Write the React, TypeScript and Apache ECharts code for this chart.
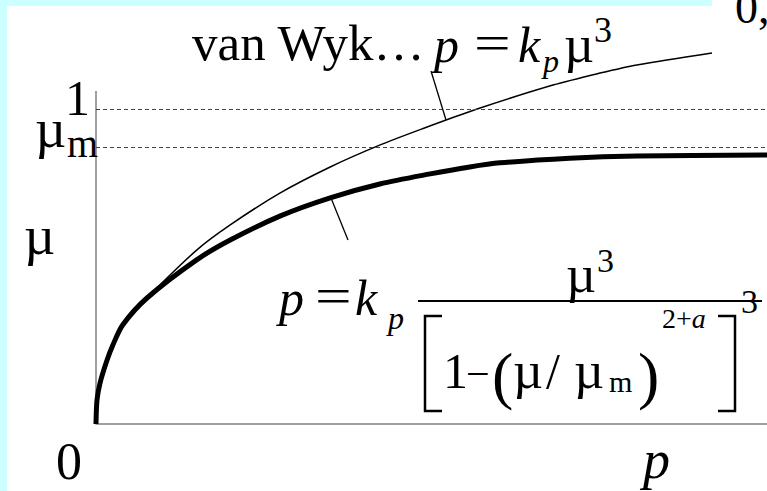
import React, { useEffect, useRef } from "react";
import * as echarts from "echarts";

// Pressure p against friction coefficient μ
// Thin curve: van Wyk cubic law; thick curve: saturating law with μ → μm
const VANWYK_P = [0, 0.015, 0.06, 0.16, 0.25, 0.4, 0.76, 1.5, 2.0, 2.74, 3.49, 4.2, 4.86, 5.68, 6.81, 7.51, 8.06, 9.18];
const VANWYK_MU = [0, 0.076, 0.13, 0.2, 0.25, 0.315, 0.4, 0.552, 0.632, 0.733, 0.816, 0.883, 0.937, 1.0, 1.076, 1.114, 1.14, 1.178];

const SAT_P = [0, 0.015, 0.06, 0.16, 0.25, 0.4, 0.76, 1.5, 2.0, 2.74, 3.49, 4.23, 4.98, 5.57, 6.02, 7.06, 8.06, 10];
const SAT_MU = [0, 0.076, 0.13, 0.2, 0.25, 0.315, 0.4, 0.521, 0.584, 0.66, 0.718, 0.762, 0.794, 0.816, 0.829, 0.844, 0.851, 0.854];

// reference levels on the μ axis
const MU_ONE = 1;
const MU_M = 0.879;
const Y_AXIS_TOP = 1.057;
const P_MAX = 10;
const MU_MAX = 1.2;

const FONT = '"Liberation Serif", "DejaVu Serif", serif';
const MU = "\u00b5";

function txt(s: string, left: number, baseline: number, size: number, italic = false, extra: any = {}) {
  return {
    type: "text",
    x: left,
    y: baseline - 0.34 * size,
    z: 10,
    style: {
      text: s,
      fontSize: size,
      fontFamily: FONT,
      fontStyle: italic ? "italic" : "normal",
      fill: "#000",
      align: "left",
      verticalAlign: "middle",
    },
    ...extra,
  };
}

function seg(x1: number, y1: number, x2: number, y2: number, w = 1.3) {
  return { type: "line", z: 10, shape: { x1, y1, x2, y2 }, style: { stroke: "#000", lineWidth: w } };
}

function poly(points: number[][], w = 2.5) {
  return { type: "polyline", z: 10, shape: { points }, style: { stroke: "#000", lineWidth: w, fill: null } };
}

export default function App() {
  const ref = useRef<HTMLDivElement>(null);

  useEffect(() => {
    if (!ref.current) return;
    const chart = echarts.init(ref.current, null, { renderer: "svg" });

    const vanWyk = VANWYK_P.map((p, i) => [p, VANWYK_MU[i]]);
    const saturating = SAT_P.map((p, i) => [p, SAT_MU[i]]);

    chart.setOption({
      animation: false,
      backgroundColor: "#ffffff",
      grid: { left: 96, right: 0, top: 46, bottom: 67 },
      xAxis: {
        type: "value",
        min: 0,
        max: P_MAX,
        axisLine: { show: true, lineStyle: { color: "#808080", width: 1.5 } },
        axisTick: { show: false },
        axisLabel: { show: false },
        splitLine: { show: false },
      },
      yAxis: {
        type: "value",
        min: 0,
        max: MU_MAX,
        axisLine: { show: false },
        axisTick: { show: false },
        axisLabel: { show: false },
        splitLine: { show: false },
      },
      series: [
        {
          type: "line",
          data: [[0, 0], [0, Y_AXIS_TOP]],
          symbol: "none",
          lineStyle: { color: "#808080", width: 1.5 },
          silent: true,
          z: 1,
        },
        {
          type: "line",
          data: vanWyk,
          smooth: 0.3,
          symbol: "none",
          lineStyle: { color: "#000", width: 1.5 },
          markLine: {
            silent: true,
            symbol: "none",
            label: { show: false },
            lineStyle: { color: "#444", width: 1, type: [4, 3] },
            data: [{ yAxis: MU_ONE }, { yAxis: MU_M }],
          },
          z: 3,
        },
        {
          type: "line",
          data: saturating,
          smooth: 0.3,
          symbol: "none",
          lineStyle: { color: "#000", width: 5 },
          z: 4,
        },
      ],
      graphic: [
        // cyan frame
        { type: "rect", z: 0, shape: { x: 0, y: 0, width: 7, height: 491 }, style: { fill: "#ccffff" } },
        { type: "rect", z: 0, shape: { x: 0, y: 0, width: 712, height: 6 }, style: { fill: "#ccffff" } },

        // axis labels
        txt("1", 65, 115, 50),
        txt(MU, 35, 147, 54),
        txt("m", 67, 157, 40),
        txt(MU, 24, 254, 54),
        txt("0", 56, 479, 52),
        txt("p", 643, 478, 54, true),
        txt("0,", 735, 23, 46),

        // van Wyk label
        txt("van Wyk…", 192, 60, 51),
        txt("p", 434, 62, 50, true),
        txt("=", 474, 60, 50, false, { scaleX: 1.3 }),
        txt("k", 518, 62, 50, true),
        txt("p", 543, 72, 32, true),
        txt(MU, 564, 62, 52),
        txt("3", 594, 42, 36),
        seg(431, 71, 446, 120),

        // saturating law formula
        txt("p", 279, 315, 50, true),
        txt("=", 315, 313, 50, false, { scaleX: 1.3 }),
        txt("k", 355, 315, 50, true),
        txt("p", 388, 329, 32, true),
        seg(418, 301, 762, 301, 2),
        txt(MU, 566, 292, 52),
        txt("3", 597, 272, 34),
        poly([[442, 316], [425, 316], [425, 411], [442, 411]]),
        txt("1", 443, 388, 50),
        txt("−", 466, 388, 42),
        txt("(", 492, 397, 64),
        txt(MU, 513, 388, 52),
        txt("/", 546, 388, 50),
        txt(MU, 574, 388, 52),
        txt("m", 609, 392, 30),
        txt(")", 638, 397, 64),
        {
          type: "text",
          x: 662,
          y: 328 - 0.34 * 28,
          z: 10,
          style: {
            text: "{u|2+}{i|a}",
            fontFamily: FONT,
            fontSize: 28,
            verticalAlign: "middle",
            rich: {
              u: { fontFamily: FONT, fontSize: 28, fill: "#000" },
              i: { fontFamily: FONT, fontSize: 28, fontStyle: "italic", fill: "#000" },
            },
          },
        },
        poly([[718, 316], [735, 316], [735, 411], [718, 411]]),
        txt("3", 741, 313, 34),
        seg(331, 198, 348, 240),
      ],
    });

    return () => chart.dispose();
  }, []);

  return (
    <div
      ref={ref}
      style={{ position: "absolute", left: 0, top: 0, width: 767, height: 491 }}
    />
  );
}
